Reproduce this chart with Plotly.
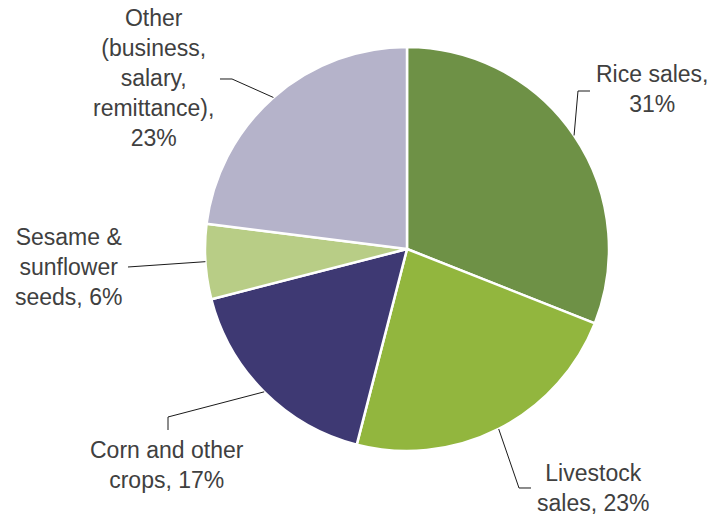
import math
import plotly.graph_objects as go

# ---- data ----
categories = ["Rice sales", "Livestock sales", "Corn and other crops",
              "Sesame & sunflower seeds", "Other (business, salary, remittance)"]
label_lines = [["Rice sales,", "31%"],
               ["Livestock", "sales, 23%"],
               ["Corn and other", "crops, 17%"],
               ["Sesame &", "sunflower", "seeds, 6%"],
               ["Other", "(business,", "salary,", "remittance),", "23%"]]
values = [31, 23, 17, 6, 23]
colors = ["#6E9146", "#92B63E", "#3E3973", "#B8CD86", "#B5B3CA"]

W, H = 715, 520
CX, CY, R = 407, 249, 202  # pie centre / radius in pixels


def px(x):
    return x / W


def py(y):
    return 1 - y / H


fig = go.Figure(go.Pie(
    labels=categories,
    values=values,
    sort=False,
    direction="clockwise",
    rotation=0,
    marker=dict(colors=colors, line=dict(color="white", width=2.5)),
    textinfo="none",
    hoverinfo="label+percent",
    showlegend=False,
    domain=dict(x=[px(CX - R), px(CX + R)], y=[py(CY + R), py(CY - R)]),
))

# label placement (pixel positions) and leader-line elbows
label_pos = [(652, 89), (593, 488), (167, 465), (68, 267), (153, 78)]
elbows = [[(578, 91), (590, 91)],
          [(519, 488), (531, 488)],
          [(168, 417), (168, 430)],
          [(128, 267)],
          [(232, 79), (220, 79)]]

total = sum(values)
cum = 0
shapes = []
annotations = []
for i, v in enumerate(values):
    mid = (cum + v / 2) / total * 2 * math.pi
    cum += v
    sx = CX + R * math.sin(mid)
    sy = CY - R * math.cos(mid)
    pts = [(sx, sy)] + elbows[i]
    path = "M " + " L ".join(f"{px(x):.5f},{py(y):.5f}" for x, y in pts)
    shapes.append(dict(type="path", path=path, xref="paper", yref="paper",
                       line=dict(color="#1a1a1a", width=1)))
    lx, ly = label_pos[i]
    annotations.append(dict(
        x=px(lx), y=py(ly), xref="paper", yref="paper",
        text="<br>".join(label_lines[i]), showarrow=False,
        xanchor="center", yanchor="middle", align="center",
        font=dict(family="Liberation Sans, Arial, sans-serif", size=23, color="#404040"),
    ))

fig.update_layout(
    width=W, height=H,
    margin=dict(l=0, r=0, t=0, b=0),
    paper_bgcolor="white",
    plot_bgcolor="white",
    shapes=shapes,
    annotations=annotations,
)

fig.write_html(
    "out.html",
    config={"displayModeBar": False},
    post_script="document.body.style.margin='0px';document.body.style.overflow='hidden';",
)
